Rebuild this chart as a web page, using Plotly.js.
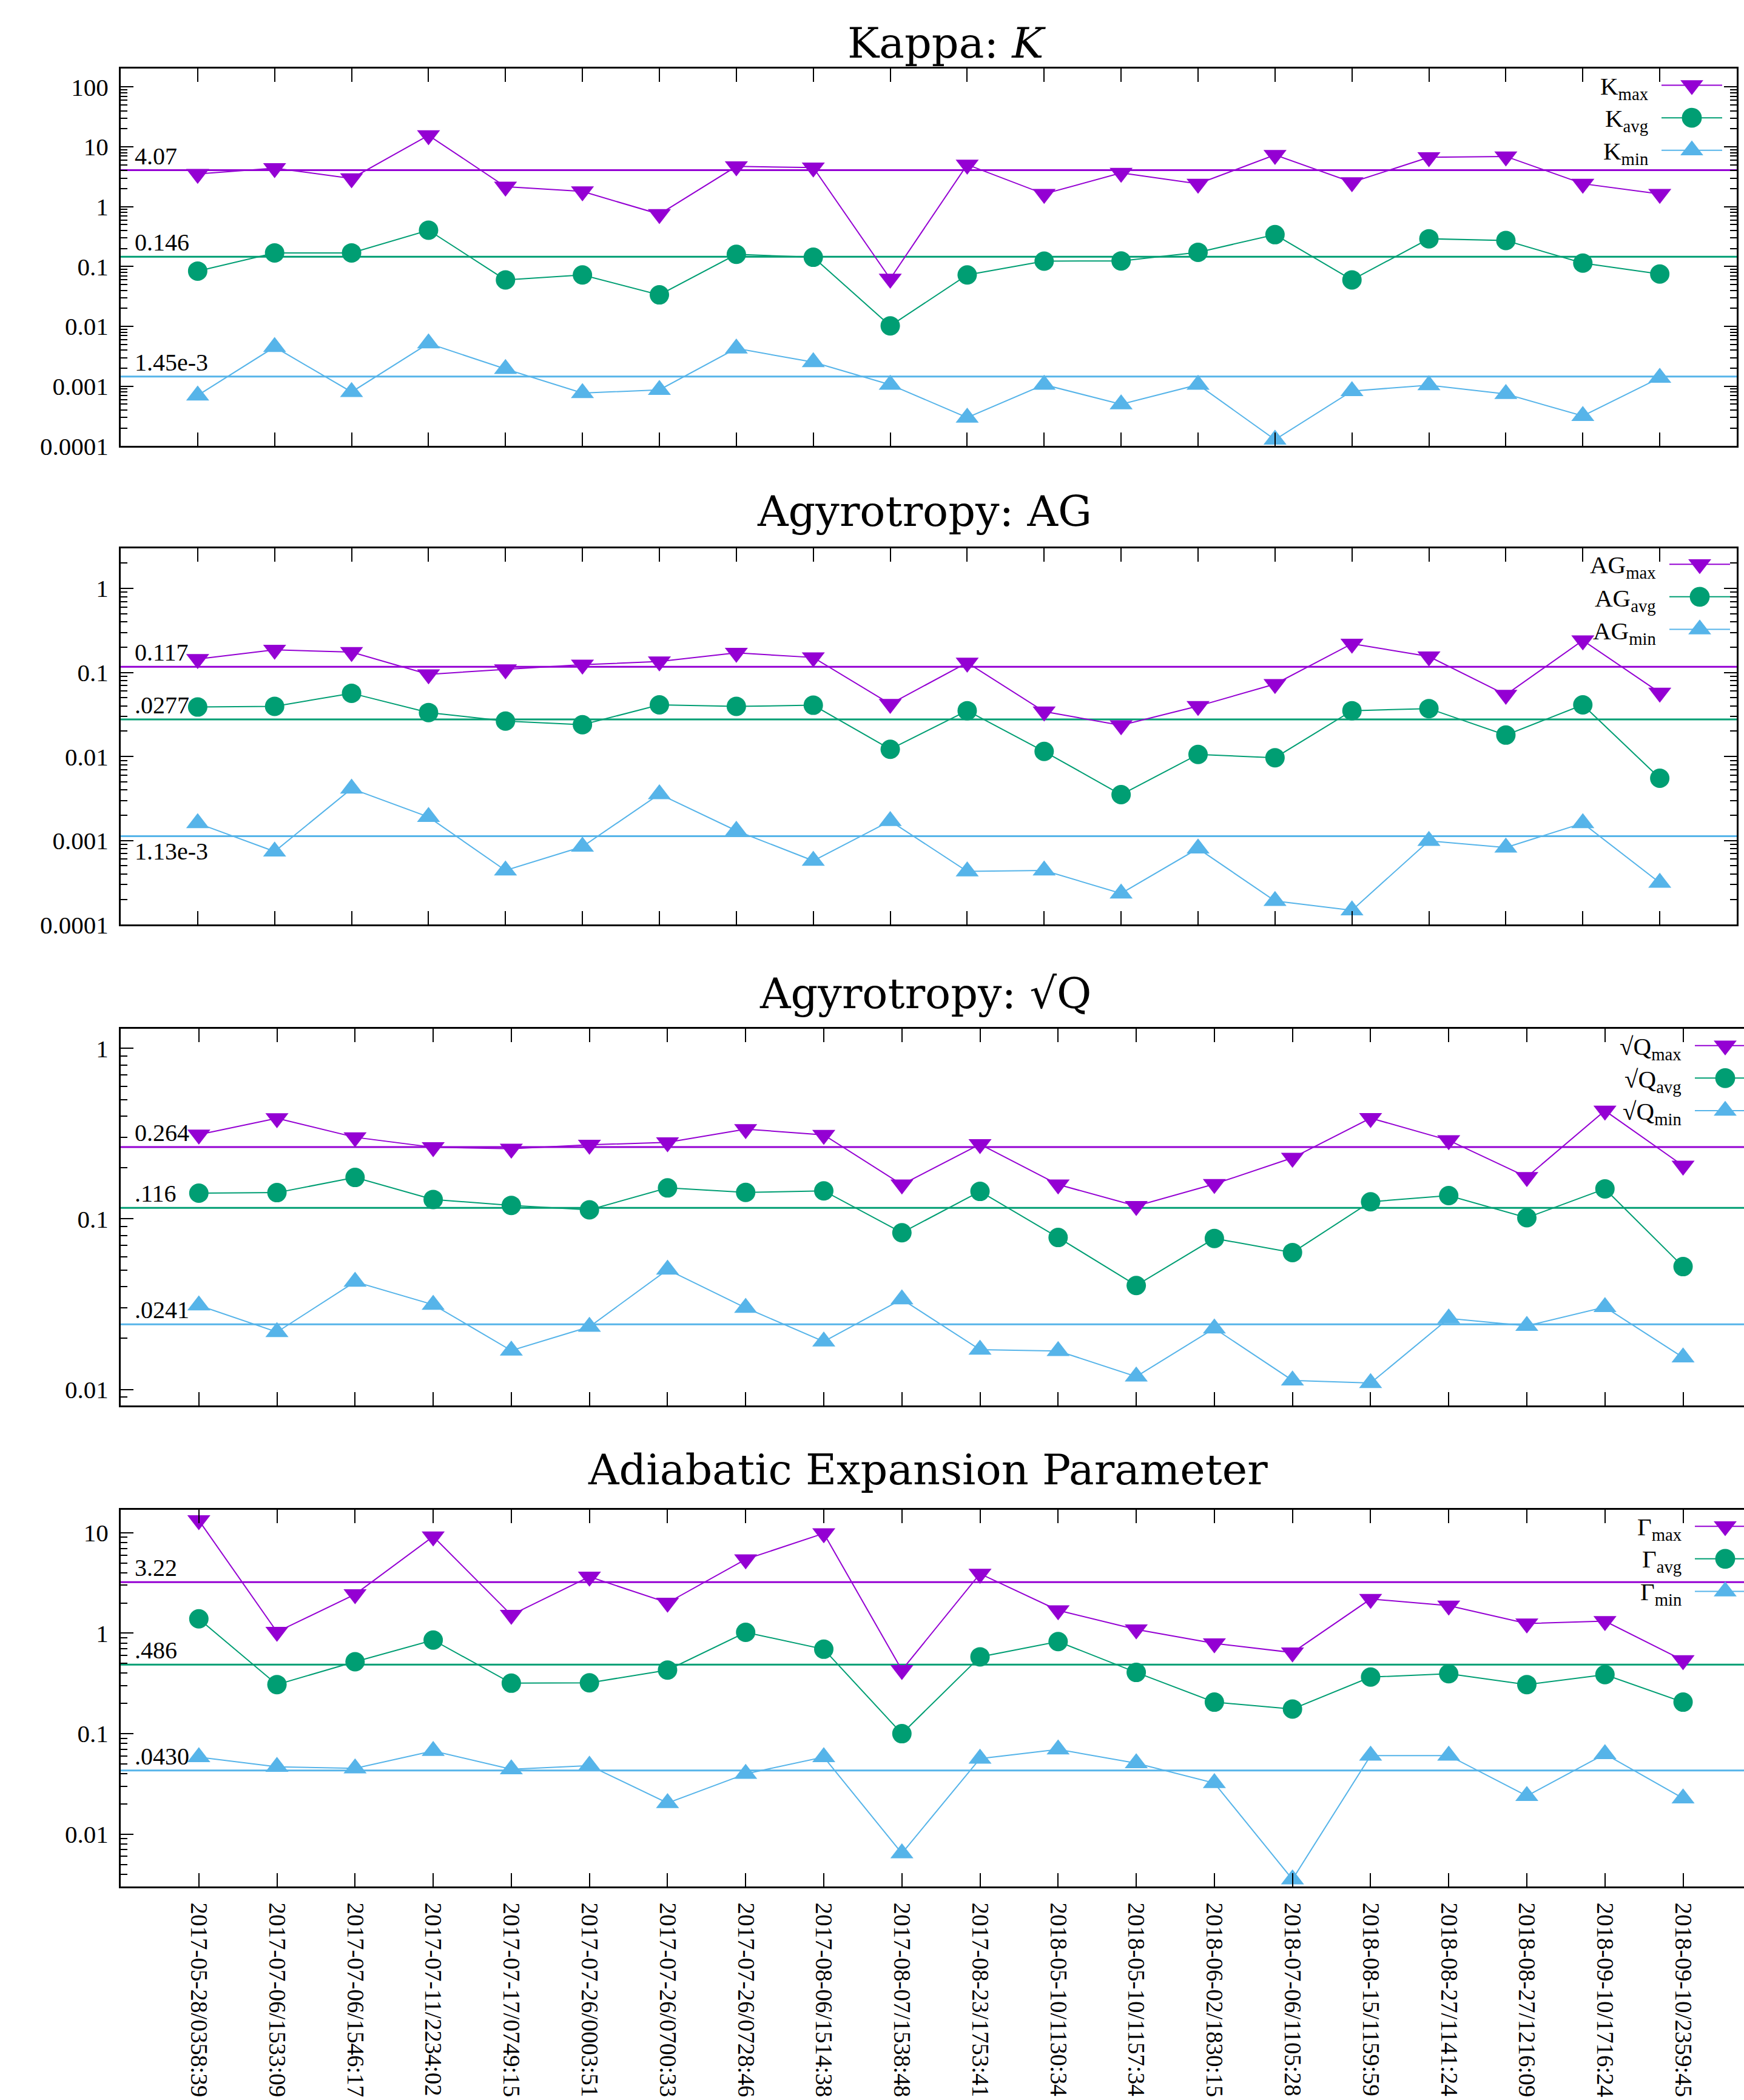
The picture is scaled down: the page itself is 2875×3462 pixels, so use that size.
<!DOCTYPE html>
<html><head><meta charset="utf-8">
<script src="https://cdn.plot.ly/plotly-3.0.1.min.js"></script>
<style>body{margin:0;background:#fff}#chart{width:2875px;height:3462px}</style>
</head><body><div id="chart"></div>
<script>
// ---------- DATA ----------
const categories = [
  '2017-05-28/0358:39','2017-07-06/1533:09','2017-07-06/1546:17','2017-07-11/2234:02',
  '2017-07-17/0749:15','2017-07-26/0003:51','2017-07-26/0700:33','2017-07-26/0728:46',
  '2017-08-06/1514:38','2017-08-07/1538:48','2017-08-23/1753:41','2018-05-10/1130:34',
  '2018-05-10/1157:34','2018-06-02/1830:15','2018-07-06/1105:28','2018-08-15/1159:59',
  '2018-08-27/1141:24','2018-08-27/1216:09','2018-09-10/1716:24','2018-09-10/2359:45'
];

const kMax = [3.52,4.41,2.97,15.6,2.16,1.80,0.75,4.72,4.51,0.0625,5.05,1.63,3.67,2.42,7.33,2.56,6.70,6.92,2.42,1.63];
const kAvg = [0.0839,0.169,0.169,0.405,0.0598,0.0724,0.0336,0.160,0.143,0.0102,0.0724,0.123,0.124,0.173,0.341,0.0598,0.291,0.272,0.114,0.075];
const kMin = [0.00070,0.00452,0.00080,0.00519,0.00194,0.000767,0.000869,0.00428,0.00252,0.00106,0.000299,0.00106,0.000499,0.00106,0.000128,0.00083,0.00104,0.00074,0.000318,0.00138];

const agMax = [0.1445,0.186,0.175,0.0951,0.109,0.124,0.135,0.171,0.151,0.0422,0.131,0.0343,0.0235,0.0398,0.0728,0.220,0.155,0.0543,0.241,0.0575];
const agAvg = [0.0388,0.0395,0.0566,0.0334,0.0264,0.0239,0.0412,0.0395,0.0408,0.0122,0.0351,0.0115,0.00352,0.0106,0.00968,0.0351,0.0372,0.0180,0.0412,0.00552];
const agMin = [0.00161,0.000741,0.00415,0.00191,0.000441,0.000846,0.00357,0.00131,0.000575,0.00171,0.000430,0.000441,0.000235,0.000805,0.000191,0.000148,0.000993,0.000826,0.00161,0.000315];

const qMax = [0.312,0.389,0.301,0.263,0.258,0.272,0.281,0.336,0.311,0.159,0.274,0.159,0.119,0.160,0.228,0.390,0.289,0.176,0.431,0.205];
const qAvg = [0.1415,0.1426,0.175,0.130,0.120,0.113,0.152,0.143,0.146,0.0830,0.145,0.0778,0.0407,0.0768,0.0635,0.126,0.137,0.1016,0.150,0.0525];
const qMin = [0.0311,0.0217,0.0428,0.0314,0.0169,0.0233,0.0504,0.0301,0.0191,0.0338,0.0171,0.0168,0.0119,0.0228,0.0113,0.0109,0.0261,0.0236,0.0304,0.0154];

const gMax = [13.3,1.03,2.44,9.18,1.52,3.65,2.01,5.44,9.86,0.430,3.91,1.69,1.09,0.792,0.642,2.19,1.88,1.25,1.32,0.538];
const gAvg = [1.39,0.308,0.520,0.855,0.318,0.321,0.430,1.02,0.693,0.100,0.582,0.826,0.407,0.206,0.176,0.366,0.395,0.308,0.387,0.206];
const gMin = [0.0585,0.0468,0.0452,0.0673,0.0442,0.0481,0.0204,0.0398,0.0585,0.00644,0.0565,0.0697,0.0508,0.0322,0.00355,0.0605,0.0605,0.0240,0.0627,0.0227];

const kMeans  = [4.07, 0.146, 1.45e-3];
const agMeans = [0.117, 0.0277, 1.13e-3];
const qMeans  = [0.264, 0.116, 0.0241];
const gMeans  = [3.22, 0.486, 0.0430];
const kMeanLabels  = ['4.07', '0.146', '1.45e-3'];
const agMeanLabels = ['0.117', '.0277', '1.13e-3'];
const qMeanLabels  = ['0.264', '.116', '.0241'];
const gMeanLabels  = ['3.22', '.486', '.0430'];

const titles = ['Kappa: <i>K</i>', 'Agyrotropy: AG', 'Agyrotropy: √Q', 'Adiabatic Expansion Parameter'];
const legendNames = [
  ['K<sub>max</sub>', 'K<sub>avg</sub>', 'K<sub>min</sub>'],
  ['AG<sub>max</sub>', 'AG<sub>avg</sub>', 'AG<sub>min</sub>'],
  ['√Q<sub>max</sub>', '√Q<sub>avg</sub>', '√Q<sub>min</sub>'],
  ['Γ<sub>max</sub>', 'Γ<sub>avg</sub>', 'Γ<sub>min</sub>']
];
const yTickVals1 = [1e-4, 1e-3, 0.01, 0.1, 1, 10, 100];
const yTickText1 = ['0.0001', '0.001', '0.01', '0.1', '1', '10', '100'];
const yTickVals2 = [1e-4, 1e-3, 0.01, 0.1, 1];
const yTickText2 = ['0.0001', '0.001', '0.01', '0.1', '1'];
const yTickVals3 = [0.01, 0.1, 1];
const yTickText3 = ['0.01', '0.1', '1'];
const yTickVals4 = [0.01, 0.1, 1, 10];
const yTickText4 = ['0.01', '0.1', '1', '10'];

// ---------- LAYOUT ----------
const W = 2875, H = 3462;
const px = v => v / W;
const py = v => 1 - v / H;
const COLORS = ['#9400D3', '#009E73', '#56B4E9'];
const SYMBOLS = ['triangle-down', 'circle', 'triangle-up'];
const SIZES = [33, 32, 33];
const SERIF = 'Liberation Serif, Times New Roman, serif';
const TITLEFONT = 'DejaVu Serif, serif';

const panels = [
  {series:[kMax,kAvg,kMin], means:kMeans, labels:kMeanLabels, tv:yTickVals1, tt:yTickText1,
   dx:[199,2863], dy:[112.9,735.3], yr:[-4,2.31], xr:[-1,20], mirror:true,
   titleX:1560, titleY:70.5, legRows:[140.6,194.4,248.2], legTextR:2718, legStart:2739, below:[]},
  {series:[agMax,agAvg,agMin], means:agMeans, labels:agMeanLabels, tv:yTickVals2, tt:yTickText2,
   dx:[199,2863], dy:[903.6,1524.3], yr:[-4,0.48], xr:[-1,20], mirror:true,
   titleX:1524, titleY:842.8, legRows:[930.3,984.7,1038.6], legTextR:2731, legStart:2752, below:[2]},
  {series:[qMax,qAvg,qMin], means:qMeans, labels:qMeanLabels, tv:yTickVals3, tt:yTickText3,
   dx:[199,2875], dy:[1696.1,2317.3], yr:[-2.095,0.1145], xr:[-1,19.78], mirror:false,
   titleX:1525, titleY:1637.8, legRows:[1723.8,1777.7,1831.1], legTextR:2773, legStart:2794, below:[]},
  {series:[gMax,gAvg,gMin], means:gMeans, labels:gMeanLabels, tv:yTickVals4, tt:yTickText4,
   dx:[199,2875], dy:[2488.6,3109.8], yr:[-2.52,1.231], xr:[-1,19.78], mirror:false,
   titleX:1529, titleY:2423.3, legRows:[2516.3,2569.2,2623.1], legTextR:2773, legStart:2794, below:[]}
];

const traces = [];
const layout = {
  width: W, height: H,
  margin: {l:0, r:0, t:0, b:0, pad:0, autoexpand: false},
  paper_bgcolor: '#fff', plot_bgcolor: '#fff',
  font: {family: SERIF, size: 40, color: '#000'},
  showlegend: true,
  shapes: [], annotations: []
};

panels.forEach((p, i) => {
  const n = i + 1;
  const xa = 'xaxis' + (n === 1 ? '' : n), ya = 'yaxis' + (n === 1 ? '' : n);
  const xid = 'x' + (n === 1 ? '' : n), yid = 'y' + (n === 1 ? '' : n);
  const legId = 'legend' + (n === 1 ? '' : n);

  const minorVals = [];
  for (let d = Math.floor(p.yr[0]); d <= Math.ceil(p.yr[1]); d++) {
    for (let m = 2; m <= 9; m++) minorVals.push(m * Math.pow(10, d));
  }

  layout[xa] = {
    domain: [px(p.dx[0]), px(p.dx[1])], anchor: yid,
    type: 'category', categoryorder: 'array', categoryarray: categories,
    range: p.xr, tickmode: 'linear', tick0: 0, dtick: 1,
    showline: true, linecolor: '#000', linewidth: 3, mirror: 'ticks',
    ticks: 'inside', ticklen: 22, tickwidth: 2, tickcolor: '#000',
    showgrid: false, zeroline: false, fixedrange: true, automargin: false,
    showticklabels: n === 4, tickangle: 90, ticklabelstandoff: 16,
    tickfont: {family: SERIF, size: 39, color: '#000'}
  };
  layout[ya] = {
    domain: [py(p.dy[1]), py(p.dy[0])], anchor: xid,
    type: 'log', range: p.yr,
    tickmode: 'array', tickvals: p.tv, ticktext: p.tt,
    showline: true, linecolor: '#000', linewidth: 3, mirror: p.mirror ? 'ticks' : false,
    ticks: 'inside', ticklen: 21, tickwidth: 2, tickcolor: '#000',
    minor: {tickmode: 'array', tickvals: minorVals, ticks: 'inside', ticklen: 11, tickwidth: 2, tickcolor: '#000', showgrid: false},
    showgrid: false, zeroline: false, fixedrange: true, automargin: false, ticklabelstandoff: 9,
    tickfont: {family: SERIF, size: 41, color: '#000'}
  };
  layout[legId] = {
    x: px(p.legStart - 5), xanchor: 'left', y: py(p.legRows[0] - 32), yanchor: 'top',
    bgcolor: 'rgba(0,0,0,0)', borderwidth: 0, itemwidth: 100, tracegroupgap: 0,
    traceorder: 'normal', font: {family: SERIF, size: 39, color: '#000'}
  };

  p.series.forEach((vals, k) => {
    traces.push({
      type: 'scatter', mode: 'lines+markers', x: categories, y: vals,
      xaxis: xid, yaxis: yid, legend: legId, name: ' ', showlegend: true,
      line: {color: COLORS[k], width: 2},
      marker: {symbol: SYMBOLS[k], size: SIZES[k], color: COLORS[k], line: {width: 0}},
      cliponaxis: true, hoverinfo: 'skip'
    });
  });

  p.means.forEach((m, k) => {
    layout.shapes.push({
      type: 'line', xref: xid + ' domain', x0: 0, x1: 1, yref: yid,
      y0: m, y1: m, layer: 'below',
      line: {color: COLORS[k], width: 3}
    });
    const isBelow = p.below.includes(k);
    layout.annotations.push({
      xref: 'paper', x: px(221), xanchor: 'left', yref: yid, y: Math.log10(m),
      yanchor: isBelow ? 'top' : 'bottom', yshift: isBelow ? -2 : 0,
      text: p.labels[k], showarrow: false, borderpad: 0,
      font: {family: SERIF, size: 40, color: '#000'}
    });
  });

  layout.annotations.push({
    xref: 'paper', yref: 'paper', x: px(p.titleX), y: py(p.titleY),
    xanchor: 'center', yanchor: 'middle', text: titles[i], showarrow: false,
    font: {family: TITLEFONT, size: 70, color: '#000'}
  });

  legendNames[i].forEach((t, k) => {
    layout.annotations.push({
      xref: 'paper', yref: 'paper', x: px(p.legTextR), y: py(p.legRows[k] + 4),
      xanchor: 'right', yanchor: 'middle', text: t, showarrow: false, borderpad: 0,
      font: {family: SERIF, size: 41, color: '#000'}
    });
  });
});

Plotly.newPlot('chart', traces, layout, {displayModeBar: false, staticPlot: true}).then(gd => {
  gd.querySelectorAll('.legendpoints path.scatterpts').forEach(el => {
    const t = el.getAttribute('transform') || '';
    el.setAttribute('transform', t + ' scale(2.05)');
  });
  gd.querySelectorAll('text').forEach(t => {
    if (t.textContent.trim() === '') t.remove();
  });
});
</script>
</body></html>
